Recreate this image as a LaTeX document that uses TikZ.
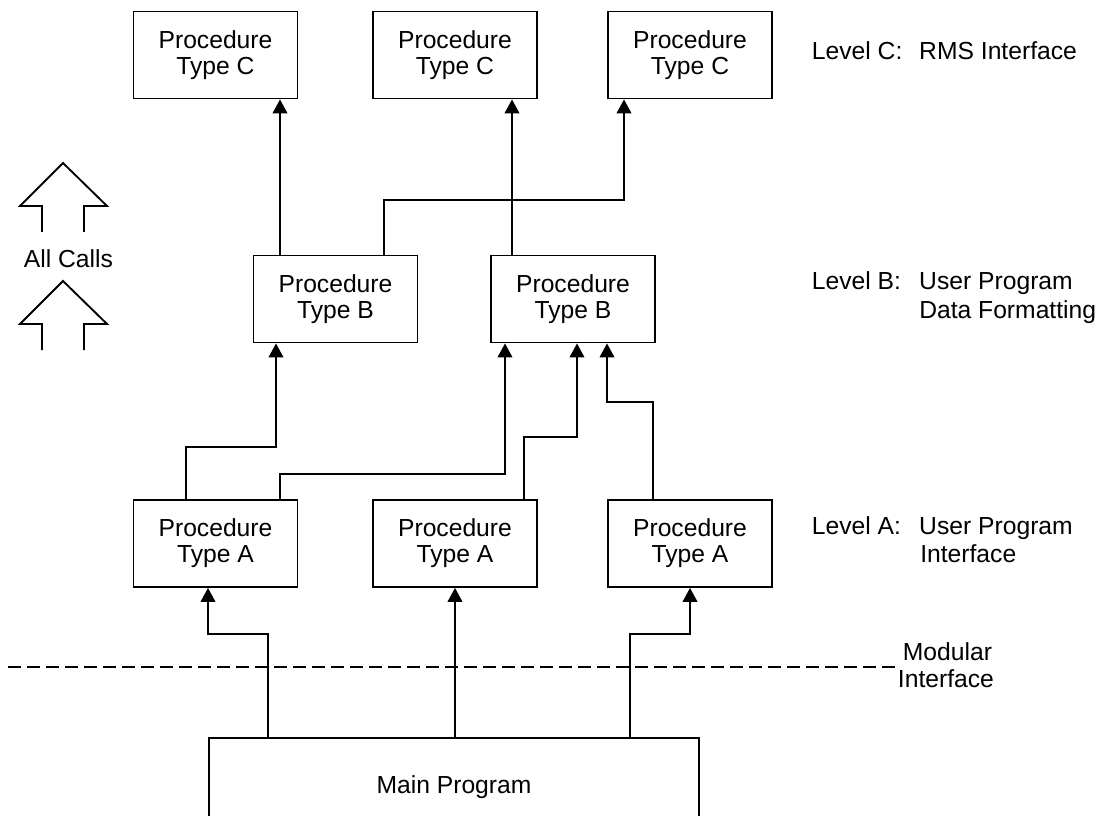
\documentclass[tikz,border=0pt]{standalone}
\usepackage{fontspec}
\setmainfont{Liberation Sans}
\usetikzlibrary{arrows.meta}
\begin{document}
\begin{tikzpicture}[x=0.75pt,y=-0.75pt,line width=1.4pt,line join=miter,
  box/.style={draw,rectangle,inner sep=0pt,minimum width=123pt,minimum height=65.25pt,align=center,font=\fontsize{18.5}{19.5}\selectfont},
  lbl/.style={anchor=base west,inner sep=0pt,font=\fontsize{18.5}{21}\selectfont},
  arr/.style={-{Triangle[length=10.5pt,width=11pt]}},
  modline/.style={dash pattern=on 10pt off 4.25pt}]
\useasboundingbox (0,0) rectangle (1105,816);

% Level C
\node[box] (c1) at (215.5,55) {Procedure\\Type C};
\node[box] (c2) at (455,55) {Procedure\\Type C};
\node[box] (c3) at (690,55) {Procedure\\Type C};
% Level B
\node[box] (b1) at (335.5,299) {Procedure\\Type B};
\node[box] (b2) at (573,299) {Procedure\\Type B};
% Level A
\node[box] (a1) at (215.5,543.5) {Procedure\\Type A};
\node[box] (a2) at (455,543.5) {Procedure\\Type A};
\node[box] (a3) at (690,543.5) {Procedure\\Type A};

% Main program (open at the bottom)
\node[inner sep=0pt,minimum width=366pt,minimum height=70.5pt,font=\fontsize{18.5}{19.5}\selectfont] (main) at (454,787) {Main Program};
\draw (main.west |- 0,816) -- (main.north west |- 0,738) -- (main.north east |- 0,738) -- (main.east |- 0,816);

% B -> C
\draw[arr] (b1.north -| 280,0) -- (c1.south -| 280,0);
\draw[arr] (b1.north -| 384,0) -- (384,200) -- (624,200) -- (c3.south -| 624,0);
\draw[arr] (b2.north -| 512,0) -- (c2.south -| 512,0);

% A -> B
\draw[arr] (a1.north -| 186,0) -- (186,447) -- (276,447) -- (b1.south -| 276,0);
\draw[arr] (a1.north -| 280,0) -- (280,474) -- (505,474) -- (b2.south -| 505,0);
\draw[arr] (a2.north -| 524,0) -- (524,437) -- (577,437) -- (b2.south -| 577,0);
\draw[arr] (a3.north -| 653,0) -- (653,402) -- (607,402) -- (b2.south -| 607,0);

% Main -> A
\draw[arr] (main.north -| 268,738) -- (268,634) -- (208,634) -- (a1.south -| 208,0);
\draw[arr] (455,738) -- (a2.south);
\draw[arr] (main.north -| 630,738) -- (630,634) -- (690,634) -- (a3.south -| 690,0);

% Modular interface
\coordinate (modstart) at (8,667);
\coordinate (modend) at (898,667);
\draw[modline] (modstart) -- (modend);
\node[lbl] (modlbl) at (897,660) {\begin{tabular}[t]{@{}l@{}}\hspace{3.75pt}Modular\\[-0.75pt]Interface\end{tabular}};

% Level labels
\node[lbl] (lc) at (811,60) {\makebox[80.5pt][l]{Level C:}RMS Interface};
\node[lbl] (lb) at (811,290) {\begin{tabular}[t]{@{}p{80.5pt}@{}l@{}}Level B: & User Program\\ & Data Formatting\end{tabular}};
\node[lbl] (la) at (811,534) {\begin{tabular}[t]{@{}p{80.5pt}@{}l@{}}Level A: & User Program\\ & \hspace{0.75pt}Interface\end{tabular}};

% All Calls arrows
\draw (42,232) -- (42,206) -- (20,206) -- (63,163) -- (107,206) -- (84,206) -- (84,232);
\node[lbl] (calls) at (23,268) {All Calls};
\draw (42,350) -- (42,324) -- (20,324) -- (63,281) -- (107,324) -- (84,324) -- (84,350);
\end{tikzpicture}
\end{document}
